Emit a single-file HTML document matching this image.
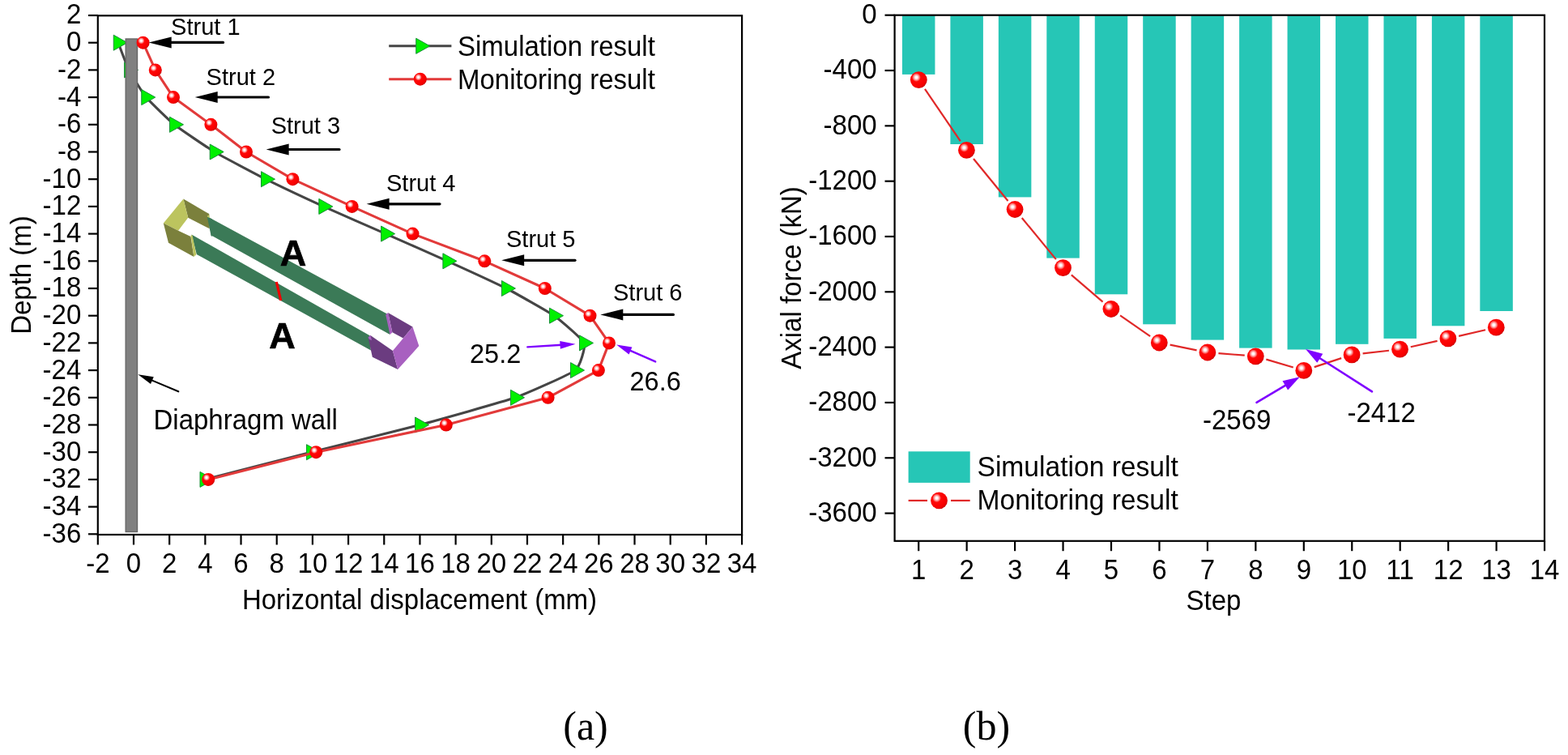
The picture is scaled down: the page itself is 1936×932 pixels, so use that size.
<!DOCTYPE html>
<html><head><meta charset="utf-8"><title>Figure</title>
<style>html,body{margin:0;padding:0;background:#fff;overflow:hidden;}svg{display:block;filter:blur(0.45px);}</style>
</head><body>
<svg width="1936" height="932" viewBox="0 0 1936 932" font-family='"Liberation Sans", Arial, sans-serif' fill="#000">
<defs><radialGradient id="ball" cx="0.36" cy="0.35" r="0.7" fx="0.36" fy="0.35">
<stop offset="0" stop-color="#ffffff"/><stop offset="0.1" stop-color="#fff4f4"/><stop offset="0.24" stop-color="#ff8a8a"/><stop offset="0.37" stop-color="#ff0808"/><stop offset="0.8" stop-color="#f60000"/><stop offset="0.97" stop-color="#d40000"/><stop offset="1" stop-color="#c00000"/></radialGradient></defs>
<rect width="1936" height="932" fill="#fff"/>
<rect x="120.8" y="19.3" width="795.3" height="640.7" fill="none" stroke="#000" stroke-width="2.2"/>
<line x1="109" y1="19" x2="120.8" y2="19" stroke="#000" stroke-width="2.2"/>
<text transform="translate(100.3,29.4) scale(1,1.04)" text-anchor="end" font-size="33">2</text>
<line x1="109" y1="52.7" x2="120.8" y2="52.7" stroke="#000" stroke-width="2.2"/>
<text transform="translate(100.3,63.1) scale(1,1.04)" text-anchor="end" font-size="33">0</text>
<line x1="109" y1="86.4" x2="120.8" y2="86.4" stroke="#000" stroke-width="2.2"/>
<text transform="translate(100.3,96.8) scale(1,1.04)" text-anchor="end" font-size="33">-2</text>
<line x1="109" y1="120.1" x2="120.8" y2="120.1" stroke="#000" stroke-width="2.2"/>
<text transform="translate(100.3,130.5) scale(1,1.04)" text-anchor="end" font-size="33">-4</text>
<line x1="109" y1="153.8" x2="120.8" y2="153.8" stroke="#000" stroke-width="2.2"/>
<text transform="translate(100.3,164.2) scale(1,1.04)" text-anchor="end" font-size="33">-6</text>
<line x1="109" y1="187.5" x2="120.8" y2="187.5" stroke="#000" stroke-width="2.2"/>
<text transform="translate(100.3,197.9) scale(1,1.04)" text-anchor="end" font-size="33">-8</text>
<line x1="109" y1="221.2" x2="120.8" y2="221.2" stroke="#000" stroke-width="2.2"/>
<text transform="translate(100.3,231.6) scale(1,1.04)" text-anchor="end" font-size="33">-10</text>
<line x1="109" y1="254.9" x2="120.8" y2="254.9" stroke="#000" stroke-width="2.2"/>
<text transform="translate(100.3,265.3) scale(1,1.04)" text-anchor="end" font-size="33">-12</text>
<line x1="109" y1="288.6" x2="120.8" y2="288.6" stroke="#000" stroke-width="2.2"/>
<text transform="translate(100.3,299) scale(1,1.04)" text-anchor="end" font-size="33">-14</text>
<line x1="109" y1="322.3" x2="120.8" y2="322.3" stroke="#000" stroke-width="2.2"/>
<text transform="translate(100.3,332.7) scale(1,1.04)" text-anchor="end" font-size="33">-16</text>
<line x1="109" y1="356" x2="120.8" y2="356" stroke="#000" stroke-width="2.2"/>
<text transform="translate(100.3,366.4) scale(1,1.04)" text-anchor="end" font-size="33">-18</text>
<line x1="109" y1="389.7" x2="120.8" y2="389.7" stroke="#000" stroke-width="2.2"/>
<text transform="translate(100.3,400.1) scale(1,1.04)" text-anchor="end" font-size="33">-20</text>
<line x1="109" y1="423.4" x2="120.8" y2="423.4" stroke="#000" stroke-width="2.2"/>
<text transform="translate(100.3,433.8) scale(1,1.04)" text-anchor="end" font-size="33">-22</text>
<line x1="109" y1="457.1" x2="120.8" y2="457.1" stroke="#000" stroke-width="2.2"/>
<text transform="translate(100.3,467.5) scale(1,1.04)" text-anchor="end" font-size="33">-24</text>
<line x1="109" y1="490.8" x2="120.8" y2="490.8" stroke="#000" stroke-width="2.2"/>
<text transform="translate(100.3,501.2) scale(1,1.04)" text-anchor="end" font-size="33">-26</text>
<line x1="109" y1="524.5" x2="120.8" y2="524.5" stroke="#000" stroke-width="2.2"/>
<text transform="translate(100.3,534.9) scale(1,1.04)" text-anchor="end" font-size="33">-28</text>
<line x1="109" y1="558.2" x2="120.8" y2="558.2" stroke="#000" stroke-width="2.2"/>
<text transform="translate(100.3,568.6) scale(1,1.04)" text-anchor="end" font-size="33">-30</text>
<line x1="109" y1="591.9" x2="120.8" y2="591.9" stroke="#000" stroke-width="2.2"/>
<text transform="translate(100.3,602.3) scale(1,1.04)" text-anchor="end" font-size="33">-32</text>
<line x1="109" y1="625.6" x2="120.8" y2="625.6" stroke="#000" stroke-width="2.2"/>
<text transform="translate(100.3,636) scale(1,1.04)" text-anchor="end" font-size="33">-34</text>
<line x1="109" y1="659.3" x2="120.8" y2="659.3" stroke="#000" stroke-width="2.2"/>
<text transform="translate(100.3,669.7) scale(1,1.04)" text-anchor="end" font-size="33">-36</text>
<line x1="120.82" y1="660" x2="120.82" y2="672.5" stroke="#000" stroke-width="2.2"/>
<text transform="translate(120.82,707.2) scale(1,1.04)" text-anchor="middle" font-size="33">-2</text>
<line x1="165" y1="660" x2="165" y2="672.5" stroke="#000" stroke-width="2.2"/>
<text transform="translate(165,707.2) scale(1,1.04)" text-anchor="middle" font-size="33">0</text>
<line x1="209.18" y1="660" x2="209.18" y2="672.5" stroke="#000" stroke-width="2.2"/>
<text transform="translate(209.18,707.2) scale(1,1.04)" text-anchor="middle" font-size="33">2</text>
<line x1="253.36" y1="660" x2="253.36" y2="672.5" stroke="#000" stroke-width="2.2"/>
<text transform="translate(253.36,707.2) scale(1,1.04)" text-anchor="middle" font-size="33">4</text>
<line x1="297.54" y1="660" x2="297.54" y2="672.5" stroke="#000" stroke-width="2.2"/>
<text transform="translate(297.54,707.2) scale(1,1.04)" text-anchor="middle" font-size="33">6</text>
<line x1="341.72" y1="660" x2="341.72" y2="672.5" stroke="#000" stroke-width="2.2"/>
<text transform="translate(341.72,707.2) scale(1,1.04)" text-anchor="middle" font-size="33">8</text>
<line x1="385.9" y1="660" x2="385.9" y2="672.5" stroke="#000" stroke-width="2.2"/>
<text transform="translate(385.9,707.2) scale(1,1.04)" text-anchor="middle" font-size="33">10</text>
<line x1="430.08" y1="660" x2="430.08" y2="672.5" stroke="#000" stroke-width="2.2"/>
<text transform="translate(430.08,707.2) scale(1,1.04)" text-anchor="middle" font-size="33">12</text>
<line x1="474.26" y1="660" x2="474.26" y2="672.5" stroke="#000" stroke-width="2.2"/>
<text transform="translate(474.26,707.2) scale(1,1.04)" text-anchor="middle" font-size="33">14</text>
<line x1="518.44" y1="660" x2="518.44" y2="672.5" stroke="#000" stroke-width="2.2"/>
<text transform="translate(518.44,707.2) scale(1,1.04)" text-anchor="middle" font-size="33">16</text>
<line x1="562.62" y1="660" x2="562.62" y2="672.5" stroke="#000" stroke-width="2.2"/>
<text transform="translate(562.62,707.2) scale(1,1.04)" text-anchor="middle" font-size="33">18</text>
<line x1="606.8" y1="660" x2="606.8" y2="672.5" stroke="#000" stroke-width="2.2"/>
<text transform="translate(606.8,707.2) scale(1,1.04)" text-anchor="middle" font-size="33">20</text>
<line x1="650.98" y1="660" x2="650.98" y2="672.5" stroke="#000" stroke-width="2.2"/>
<text transform="translate(650.98,707.2) scale(1,1.04)" text-anchor="middle" font-size="33">22</text>
<line x1="695.16" y1="660" x2="695.16" y2="672.5" stroke="#000" stroke-width="2.2"/>
<text transform="translate(695.16,707.2) scale(1,1.04)" text-anchor="middle" font-size="33">24</text>
<line x1="739.34" y1="660" x2="739.34" y2="672.5" stroke="#000" stroke-width="2.2"/>
<text transform="translate(739.34,707.2) scale(1,1.04)" text-anchor="middle" font-size="33">26</text>
<line x1="783.52" y1="660" x2="783.52" y2="672.5" stroke="#000" stroke-width="2.2"/>
<text transform="translate(783.52,707.2) scale(1,1.04)" text-anchor="middle" font-size="33">28</text>
<line x1="827.7" y1="660" x2="827.7" y2="672.5" stroke="#000" stroke-width="2.2"/>
<text transform="translate(827.7,707.2) scale(1,1.04)" text-anchor="middle" font-size="33">30</text>
<line x1="871.88" y1="660" x2="871.88" y2="672.5" stroke="#000" stroke-width="2.2"/>
<text transform="translate(871.88,707.2) scale(1,1.04)" text-anchor="middle" font-size="33">32</text>
<line x1="916.06" y1="660" x2="916.06" y2="672.5" stroke="#000" stroke-width="2.2"/>
<text transform="translate(916.06,707.2) scale(1,1.04)" text-anchor="middle" font-size="33">34</text>
<text transform="translate(518,752) scale(1,1.04)" text-anchor="middle" font-size="33">Horizontal displacement (mm)</text>
<text transform="translate(38.2,339.5) rotate(-90) scale(1,1.04)" text-anchor="middle" font-size="33">Depth (m)</text>
<polygon points="258.3,268.6 479.8,388.4 481.5,413.1 260.8,290.5" fill="#3b7a57"/>
<polygon points="236.5,289.5 456.6,414.2 457.9,432.5 242.8,314" fill="#3b7a57"/>
<polygon points="226.4,245.6 258.2,264 258.7,282.3 232.2,268.8" fill="#7b803c"/>
<polygon points="201.8,275.5 226.4,245.6 232.2,268.8 220.1,284.7" fill="#bcc45e"/>
<polygon points="201.8,275.5 220.1,284.7 235.5,292 239.4,317 208,299.7" fill="#7b803c"/>
<polygon points="235.5,290.5 237.5,290.3 242.3,314.2 239.4,317" fill="#bcc45e"/>
<polygon points="255.8,266.5 258.3,265.2 258.7,270 256.5,270" fill="#bcc45e"/>
<polygon points="255.8,267.8 262,270.5 262,292 260.6,291" fill="#3b7a57"/>
<polygon points="454.5,416.5 457.4,414.1 484.9,433 491.2,456.1 459.8,440.7" fill="#6b3c80"/>
<polygon points="454.5,416.5 457.4,414.1 459,420 456,419" fill="#a860c0"/>
<polygon points="479.1,386.1 509.5,403.5 497.9,417.5 484.4,410.2" fill="#6b3c80"/>
<polygon points="476.2,388.5 479.1,386.1 484.4,410.2 481.5,413.1" fill="#a860c0"/>
<polygon points="509.5,403.5 517.3,427.1 491.2,456.1 484.9,433 497.9,417.5" fill="#a860c0"/>
<line x1="341.3" y1="348" x2="346.8" y2="371" stroke="#f00000" stroke-width="3.2"/>
<text x="362" y="328.3" text-anchor="middle" font-size="45" font-weight="bold" stroke="#000" stroke-width="0.7">A</text>
<text x="348.5" y="430.3" text-anchor="middle" font-size="45" font-weight="bold" stroke="#000" stroke-width="0.7">A</text>
<path d="M145.92,52.7 C146.89,55.17 156.64,81.46 159.17,86.4 C161.7,91.34 176.31,115.16 180.42,120.1 C184.52,125.04 208.97,148.86 215.17,153.8 C221.36,158.74 256.58,182.56 264.87,187.5 C273.15,192.44 318.3,216.26 328.17,221.2 C338.04,226.14 388.61,249.96 399.47,254.9 C410.33,259.84 465.04,283.66 476.27,288.6 C487.49,293.54 541.65,317.36 552.57,322.3 C563.48,327.24 615.42,351.06 625.07,356 C634.72,360.94 677.12,384.76 684.17,389.7 C691.21,394.64 719.26,418.46 721.17,423.4 C723.07,428.34 716.4,452.16 710.17,457.1 C703.93,462.04 650.24,485.86 636.17,490.8 C622.09,495.74 536.75,519.56 518.27,524.5 C499.79,529.44 403.64,553.26 384.17,558.2 C364.69,563.14 262.31,589.43 252.67,591.9" fill="none" stroke="#454545" stroke-width="3.1" stroke-linejoin="round"/>
<polygon points="140.25,43.2 157.25,52.7 140.25,62.2" fill="#00f000" stroke="#189038" stroke-width="1" stroke-linejoin="round"/>
<polygon points="153.5,76.9 170.5,86.4 153.5,95.9" fill="#00f000" stroke="#189038" stroke-width="1" stroke-linejoin="round"/>
<polygon points="174.75,110.6 191.75,120.1 174.75,129.6" fill="#00f000" stroke="#189038" stroke-width="1" stroke-linejoin="round"/>
<polygon points="209.5,144.3 226.5,153.8 209.5,163.3" fill="#00f000" stroke="#189038" stroke-width="1" stroke-linejoin="round"/>
<polygon points="259.2,178 276.2,187.5 259.2,197" fill="#00f000" stroke="#189038" stroke-width="1" stroke-linejoin="round"/>
<polygon points="322.5,211.7 339.5,221.2 322.5,230.7" fill="#00f000" stroke="#189038" stroke-width="1" stroke-linejoin="round"/>
<polygon points="393.8,245.4 410.8,254.9 393.8,264.4" fill="#00f000" stroke="#189038" stroke-width="1" stroke-linejoin="round"/>
<polygon points="470.6,279.1 487.6,288.6 470.6,298.1" fill="#00f000" stroke="#189038" stroke-width="1" stroke-linejoin="round"/>
<polygon points="546.9,312.8 563.9,322.3 546.9,331.8" fill="#00f000" stroke="#189038" stroke-width="1" stroke-linejoin="round"/>
<polygon points="619.4,346.5 636.4,356 619.4,365.5" fill="#00f000" stroke="#189038" stroke-width="1" stroke-linejoin="round"/>
<polygon points="678.5,380.2 695.5,389.7 678.5,399.2" fill="#00f000" stroke="#189038" stroke-width="1" stroke-linejoin="round"/>
<polygon points="715.5,413.9 732.5,423.4 715.5,432.9" fill="#00f000" stroke="#189038" stroke-width="1" stroke-linejoin="round"/>
<polygon points="704.5,447.6 721.5,457.1 704.5,466.6" fill="#00f000" stroke="#189038" stroke-width="1" stroke-linejoin="round"/>
<polygon points="630.5,481.3 647.5,490.8 630.5,500.3" fill="#00f000" stroke="#189038" stroke-width="1" stroke-linejoin="round"/>
<polygon points="512.6,515 529.6,524.5 512.6,534" fill="#00f000" stroke="#189038" stroke-width="1" stroke-linejoin="round"/>
<polygon points="378.5,548.7 395.5,558.2 378.5,567.7" fill="#00f000" stroke="#189038" stroke-width="1" stroke-linejoin="round"/>
<polygon points="247,582.4 264,591.9 247,601.4" fill="#00f000" stroke="#189038" stroke-width="1" stroke-linejoin="round"/>
<rect x="155.2" y="48.0" width="14.3" height="608.5" fill="#808080" stroke="#666" stroke-width="1.4"/>
<polyline points="176.6,52.7 191.8,86.4 214,120.1 260.4,153.8 304,187.5 361.4,221.2 434.6,254.9 509.5,288.6 598.3,322.3 672.8,356 728.5,389.7 752,423.4 738.9,457.1 676.6,490.8 550.8,524.5 390.2,558.2 257.2,591.9" fill="none" stroke="#e23a3a" stroke-width="3.1" stroke-linejoin="round"/>
<circle cx="176.6" cy="52.7" r="8" fill="url(#ball)"/>
<circle cx="191.8" cy="86.4" r="8" fill="url(#ball)"/>
<circle cx="214" cy="120.1" r="8" fill="url(#ball)"/>
<circle cx="260.4" cy="153.8" r="8" fill="url(#ball)"/>
<circle cx="304" cy="187.5" r="8" fill="url(#ball)"/>
<circle cx="361.4" cy="221.2" r="8" fill="url(#ball)"/>
<circle cx="434.6" cy="254.9" r="8" fill="url(#ball)"/>
<circle cx="509.5" cy="288.6" r="8" fill="url(#ball)"/>
<circle cx="598.3" cy="322.3" r="8" fill="url(#ball)"/>
<circle cx="672.8" cy="356" r="8" fill="url(#ball)"/>
<circle cx="728.5" cy="389.7" r="8" fill="url(#ball)"/>
<circle cx="752" cy="423.4" r="8" fill="url(#ball)"/>
<circle cx="738.9" cy="457.1" r="8" fill="url(#ball)"/>
<circle cx="676.6" cy="490.8" r="8" fill="url(#ball)"/>
<circle cx="550.8" cy="524.5" r="8" fill="url(#ball)"/>
<circle cx="390.2" cy="558.2" r="8" fill="url(#ball)"/>
<circle cx="257.2" cy="591.9" r="8" fill="url(#ball)"/>
<text transform="translate(211.1,43.2) scale(1,1.04)" font-size="29">Strut 1</text>
<line x1="275.5" y1="52.4" x2="209.7" y2="52.4" stroke="#000" stroke-width="3.2" stroke-linecap="round"/><polygon points="183.7,52.4 211.7,45.4 211.7,59.4" fill="#000"/>
<text transform="translate(254.6,104.6) scale(1,1.04)" font-size="29">Strut 2</text>
<line x1="331.5" y1="120" x2="266.7" y2="120" stroke="#000" stroke-width="3.2" stroke-linecap="round"/><polygon points="240.7,120 268.7,113 268.7,127" fill="#000"/>
<text transform="translate(334.7,164.5) scale(1,1.04)" font-size="29">Strut 3</text>
<line x1="419" y1="184.5" x2="354.6" y2="184.5" stroke="#000" stroke-width="3.2" stroke-linecap="round"/><polygon points="328.6,184.5 356.6,177.5 356.6,191.5" fill="#000"/>
<text transform="translate(477,236) scale(1,1.04)" font-size="29">Strut 4</text>
<line x1="543" y1="251.8" x2="478.6" y2="251.8" stroke="#000" stroke-width="3.2" stroke-linecap="round"/><polygon points="452.6,251.8 480.6,244.8 480.6,258.8" fill="#000"/>
<text transform="translate(625,304.5) scale(1,1.04)" font-size="29">Strut 5</text>
<line x1="710" y1="321.3" x2="645.2" y2="321.3" stroke="#000" stroke-width="3.2" stroke-linecap="round"/><polygon points="619.2,321.3 647.2,314.3 647.2,328.3" fill="#000"/>
<text transform="translate(757,371.2) scale(1,1.04)" font-size="29">Strut 6</text>
<line x1="831.4" y1="388.4" x2="767.3" y2="388.4" stroke="#000" stroke-width="3.2" stroke-linecap="round"/><polygon points="741.3,388.4 769.3,381.4 769.3,395.4" fill="#000"/>
<text transform="translate(580,448.1) scale(1,1.04)" font-size="32.5">25.2</text>
<line x1="651.3" y1="428.4" x2="693.53" y2="425.76" stroke="#7f00ff" stroke-width="2.4" stroke-linecap="round"/><polygon points="710.5,424.7 691.84,430.68 691.24,421.09" fill="#7f00ff"/>
<text transform="translate(777.5,482.2) scale(1,1.04)" font-size="32.5">26.6</text>
<line x1="809.2" y1="446.4" x2="776.68" y2="432.2" stroke="#7f00ff" stroke-width="2.4" stroke-linecap="round"/><polygon points="761.1,425.4 780.43,428.6 776.59,437.4" fill="#7f00ff"/>
<text transform="translate(189.5,529.7) scale(1,1.04)" font-size="33">Diaphragm wall</text>
<line x1="220.3" y1="483.3" x2="186.07" y2="468.89" stroke="#000" stroke-width="2.1" stroke-linecap="round"/><polygon points="170.4,462.3 189.77,465.25 186.05,474.09" fill="#000"/>
<line x1="480.2" y1="56.8" x2="557.4" y2="56.8" stroke="#454545" stroke-width="3.1"/>
<polygon points="513.73,47.3 530.73,56.8 513.73,66.3" fill="#00f000" stroke="#189038" stroke-width="1" stroke-linejoin="round"/>
<text transform="translate(565,68.7) scale(1,1.04)" font-size="33">Simulation result</text>
<line x1="480.2" y1="97.7" x2="557.4" y2="97.7" stroke="#e23a3a" stroke-width="3.1"/>
<circle cx="518.8" cy="97.7" r="8" fill="url(#ball)"/>
<text transform="translate(565,109.6) scale(1,1.04)" font-size="33">Monitoring result</text>
<rect x="1113.95" y="18.7" width="40.5" height="73.2" fill="#26c6b6"/>
<rect x="1173.4" y="18.7" width="40.5" height="159.3" fill="#26c6b6"/>
<rect x="1232.85" y="18.7" width="40.5" height="224.7" fill="#26c6b6"/>
<rect x="1292.3" y="18.7" width="40.5" height="299.9" fill="#26c6b6"/>
<rect x="1351.75" y="18.7" width="40.5" height="344.6" fill="#26c6b6"/>
<rect x="1411.2" y="18.7" width="40.5" height="381.6" fill="#26c6b6"/>
<rect x="1470.65" y="18.7" width="40.5" height="400.9" fill="#26c6b6"/>
<rect x="1530.1" y="18.7" width="40.5" height="410.9" fill="#26c6b6"/>
<rect x="1589.55" y="18.7" width="40.5" height="412.8" fill="#26c6b6"/>
<rect x="1649" y="18.7" width="40.5" height="406.1" fill="#26c6b6"/>
<rect x="1708.45" y="18.7" width="40.5" height="399.2" fill="#26c6b6"/>
<rect x="1767.9" y="18.7" width="40.5" height="383.6" fill="#26c6b6"/>
<rect x="1827.35" y="18.7" width="40.5" height="365.3" fill="#26c6b6"/>
<rect x="1104.6" y="18.7" width="802.4" height="649.1" fill="none" stroke="#000" stroke-width="2.2"/>
<line x1="1092.5" y1="18.7" x2="1104.6" y2="18.7" stroke="#000" stroke-width="2.2"/>
<text transform="translate(1082.6,29.1) scale(1,1.04)" text-anchor="end" font-size="33">0</text>
<line x1="1092.5" y1="87.02" x2="1104.6" y2="87.02" stroke="#000" stroke-width="2.2"/>
<text transform="translate(1082.6,97.42) scale(1,1.04)" text-anchor="end" font-size="33">-400</text>
<line x1="1092.5" y1="155.34" x2="1104.6" y2="155.34" stroke="#000" stroke-width="2.2"/>
<text transform="translate(1082.6,165.74) scale(1,1.04)" text-anchor="end" font-size="33">-800</text>
<line x1="1092.5" y1="223.66" x2="1104.6" y2="223.66" stroke="#000" stroke-width="2.2"/>
<text transform="translate(1082.6,234.06) scale(1,1.04)" text-anchor="end" font-size="33">-1200</text>
<line x1="1092.5" y1="291.98" x2="1104.6" y2="291.98" stroke="#000" stroke-width="2.2"/>
<text transform="translate(1082.6,302.38) scale(1,1.04)" text-anchor="end" font-size="33">-1600</text>
<line x1="1092.5" y1="360.3" x2="1104.6" y2="360.3" stroke="#000" stroke-width="2.2"/>
<text transform="translate(1082.6,370.7) scale(1,1.04)" text-anchor="end" font-size="33">-2000</text>
<line x1="1092.5" y1="428.62" x2="1104.6" y2="428.62" stroke="#000" stroke-width="2.2"/>
<text transform="translate(1082.6,439.02) scale(1,1.04)" text-anchor="end" font-size="33">-2400</text>
<line x1="1092.5" y1="496.94" x2="1104.6" y2="496.94" stroke="#000" stroke-width="2.2"/>
<text transform="translate(1082.6,507.34) scale(1,1.04)" text-anchor="end" font-size="33">-2800</text>
<line x1="1092.5" y1="565.26" x2="1104.6" y2="565.26" stroke="#000" stroke-width="2.2"/>
<text transform="translate(1082.6,575.66) scale(1,1.04)" text-anchor="end" font-size="33">-3200</text>
<line x1="1092.5" y1="633.58" x2="1104.6" y2="633.58" stroke="#000" stroke-width="2.2"/>
<text transform="translate(1082.6,643.98) scale(1,1.04)" text-anchor="end" font-size="33">-3600</text>
<line x1="1134.2" y1="667.8" x2="1134.2" y2="680.2" stroke="#000" stroke-width="2.2"/>
<text transform="translate(1134.2,715) scale(1,1.04)" text-anchor="middle" font-size="33">1</text>
<line x1="1193.65" y1="667.8" x2="1193.65" y2="680.2" stroke="#000" stroke-width="2.2"/>
<text transform="translate(1193.65,715) scale(1,1.04)" text-anchor="middle" font-size="33">2</text>
<line x1="1253.1" y1="667.8" x2="1253.1" y2="680.2" stroke="#000" stroke-width="2.2"/>
<text transform="translate(1253.1,715) scale(1,1.04)" text-anchor="middle" font-size="33">3</text>
<line x1="1312.55" y1="667.8" x2="1312.55" y2="680.2" stroke="#000" stroke-width="2.2"/>
<text transform="translate(1312.55,715) scale(1,1.04)" text-anchor="middle" font-size="33">4</text>
<line x1="1372" y1="667.8" x2="1372" y2="680.2" stroke="#000" stroke-width="2.2"/>
<text transform="translate(1372,715) scale(1,1.04)" text-anchor="middle" font-size="33">5</text>
<line x1="1431.45" y1="667.8" x2="1431.45" y2="680.2" stroke="#000" stroke-width="2.2"/>
<text transform="translate(1431.45,715) scale(1,1.04)" text-anchor="middle" font-size="33">6</text>
<line x1="1490.9" y1="667.8" x2="1490.9" y2="680.2" stroke="#000" stroke-width="2.2"/>
<text transform="translate(1490.9,715) scale(1,1.04)" text-anchor="middle" font-size="33">7</text>
<line x1="1550.35" y1="667.8" x2="1550.35" y2="680.2" stroke="#000" stroke-width="2.2"/>
<text transform="translate(1550.35,715) scale(1,1.04)" text-anchor="middle" font-size="33">8</text>
<line x1="1609.8" y1="667.8" x2="1609.8" y2="680.2" stroke="#000" stroke-width="2.2"/>
<text transform="translate(1609.8,715) scale(1,1.04)" text-anchor="middle" font-size="33">9</text>
<line x1="1669.25" y1="667.8" x2="1669.25" y2="680.2" stroke="#000" stroke-width="2.2"/>
<text transform="translate(1669.25,715) scale(1,1.04)" text-anchor="middle" font-size="33">10</text>
<line x1="1728.7" y1="667.8" x2="1728.7" y2="680.2" stroke="#000" stroke-width="2.2"/>
<text transform="translate(1728.7,715) scale(1,1.04)" text-anchor="middle" font-size="33">11</text>
<line x1="1788.15" y1="667.8" x2="1788.15" y2="680.2" stroke="#000" stroke-width="2.2"/>
<text transform="translate(1788.15,715) scale(1,1.04)" text-anchor="middle" font-size="33">12</text>
<line x1="1847.6" y1="667.8" x2="1847.6" y2="680.2" stroke="#000" stroke-width="2.2"/>
<text transform="translate(1847.6,715) scale(1,1.04)" text-anchor="middle" font-size="33">13</text>
<line x1="1907.05" y1="667.8" x2="1907.05" y2="680.2" stroke="#000" stroke-width="2.2"/>
<text transform="translate(1907.05,715) scale(1,1.04)" text-anchor="middle" font-size="33">14</text>
<text transform="translate(1498.5,752.6) scale(1,1.04)" text-anchor="middle" font-size="33">Step</text>
<text transform="translate(989,343) rotate(-90) scale(1,1.04)" text-anchor="middle" font-size="33">Axial force (kN)</text>
<line x1="1141.95" y1="109.84" x2="1185.75" y2="174.16" stroke="#e02828" stroke-width="2.2"/>
<line x1="1202" y1="195.93" x2="1244.5" y2="247.97" stroke="#e02828" stroke-width="2.2"/>
<line x1="1261.75" y1="269" x2="1303.85" y2="320.1" stroke="#e02828" stroke-width="2.2"/>
<line x1="1322.83" y1="339.45" x2="1361.57" y2="372.65" stroke="#e02828" stroke-width="2.2"/>
<line x1="1383.05" y1="389.29" x2="1420.15" y2="415.21" stroke="#e02828" stroke-width="2.2"/>
<line x1="1444.63" y1="425.68" x2="1477.57" y2="432.32" stroke="#e02828" stroke-width="2.2"/>
<line x1="1504.46" y1="436.1" x2="1536.74" y2="438.7" stroke="#e02828" stroke-width="2.2"/>
<line x1="1563.34" y1="443.66" x2="1596.76" y2="453.54" stroke="#e02828" stroke-width="2.2"/>
<line x1="1622.72" y1="453.15" x2="1656.18" y2="442.15" stroke="#e02828" stroke-width="2.2"/>
<line x1="1682.61" y1="436.38" x2="1714.99" y2="432.72" stroke="#e02828" stroke-width="2.2"/>
<line x1="1741.77" y1="428.23" x2="1774.63" y2="420.87" stroke="#e02828" stroke-width="2.2"/>
<line x1="1801.15" y1="414.84" x2="1834.05" y2="407.26" stroke="#e02828" stroke-width="2.2"/>
<circle cx="1134.3" cy="98.6" r="10.4" fill="url(#ball)"/>
<circle cx="1193.4" cy="185.4" r="10.4" fill="url(#ball)"/>
<circle cx="1253.1" cy="258.5" r="10.4" fill="url(#ball)"/>
<circle cx="1312.5" cy="330.6" r="10.4" fill="url(#ball)"/>
<circle cx="1371.9" cy="381.5" r="10.4" fill="url(#ball)"/>
<circle cx="1431.3" cy="423" r="10.4" fill="url(#ball)"/>
<circle cx="1490.9" cy="435" r="10.4" fill="url(#ball)"/>
<circle cx="1550.3" cy="439.8" r="10.4" fill="url(#ball)"/>
<circle cx="1609.8" cy="457.4" r="10.4" fill="url(#ball)"/>
<circle cx="1669.1" cy="437.9" r="10.4" fill="url(#ball)"/>
<circle cx="1728.5" cy="431.2" r="10.4" fill="url(#ball)"/>
<circle cx="1787.9" cy="417.9" r="10.4" fill="url(#ball)"/>
<circle cx="1847.3" cy="404.2" r="10.4" fill="url(#ball)"/>
<line x1="1551.5" y1="496.8" x2="1588.55" y2="474.88" stroke="#7f00ff" stroke-width="2.6" stroke-linecap="round"/><polygon points="1604.9,465.2 1590.14,481.49 1583.52,470.3" fill="#7f00ff"/>
<line x1="1694" y1="483.3" x2="1628.11" y2="441.23" stroke="#7f00ff" stroke-width="2.6" stroke-linecap="round"/><polygon points="1612.1,431 1633.3,436.82 1626.3,447.78" fill="#7f00ff"/>
<text transform="translate(1485,530) scale(1,1.04)" font-size="33">-2569</text>
<text transform="translate(1663.5,520.6) scale(1,1.04)" font-size="33">-2412</text>
<rect x="1121.6" y="557.3" width="76.1" height="38.6" fill="#26c6b6"/>
<text transform="translate(1206.5,587.7) scale(1,1.04)" font-size="33.6">Simulation result</text>
<line x1="1121.6" y1="617.9" x2="1145" y2="617.9" stroke="#e02828" stroke-width="2.2"/>
<line x1="1174" y1="617.9" x2="1197.7" y2="617.9" stroke="#e02828" stroke-width="2.2"/>
<circle cx="1159.5" cy="617.9" r="10.4" fill="url(#ball)"/>
<text transform="translate(1206.5,629.3) scale(1,1.04)" font-size="33.6">Monitoring result</text>
<text x="723" y="912.8" text-anchor="middle" font-family='"Liberation Serif", "Times New Roman", serif' font-size="50">(a)</text>
<text x="1218" y="912.8" text-anchor="middle" font-family='"Liberation Serif", "Times New Roman", serif' font-size="50">(b)</text>
</svg>
</body></html>
